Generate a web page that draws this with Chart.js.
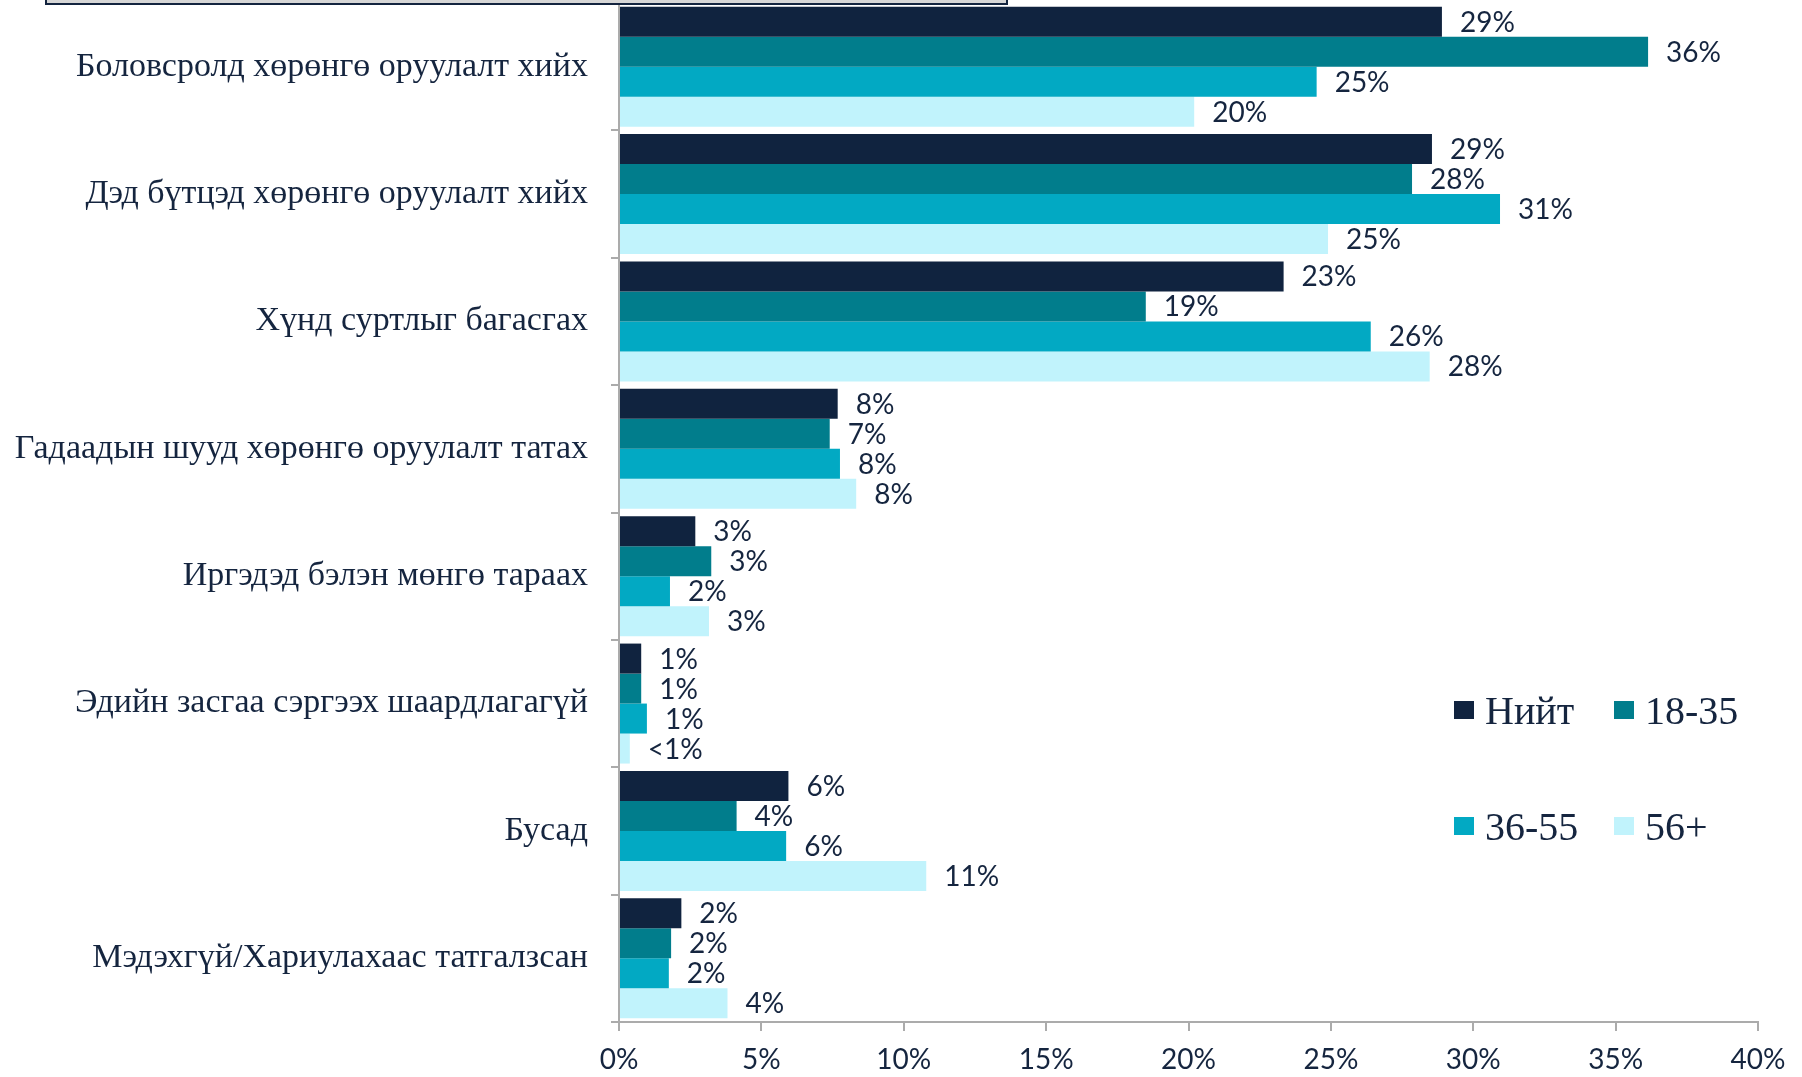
<!DOCTYPE html>
<html>
<head>
<meta charset="utf-8">
<script src="https://cdn.jsdelivr.net/npm/chart.js@4.4.0/dist/chart.umd.min.js"></script>
<style>
  html, body { margin: 0; padding: 0; background: #fff; overflow: hidden; }
  #wrap { position: relative; width: 1802px; height: 1077px; }
  #titleBox { position: absolute; left: 45px; top: -40px; width: 959px; height: 41px;
    border: 2px solid #13243f; background: #d6d6d6; }
  #legend { position: absolute; left: 1454px; top: 687px; display: grid;
    grid-template-columns: 160px 160px; row-gap: 70px;
    font-family: 'Liberation Serif', serif; font-size: 40px; color: #15253f; }
  #legend div { display: flex; align-items: center; height: 46px; }
  #legend span.box { width: 20px; height: 18px; margin-right: 11px; }
</style>
</head>
<body>
<div id="wrap">
  <canvas id="barChart" width="1802" height="1077"></canvas>
  <div id="titleBox"></div>
  <div id="legend"></div>
</div>
<script>
var categories = ['Боловсролд хөрөнгө оруулалт хийх', 'Дэд бүтцэд хөрөнгө оруулалт хийх', 'Хүнд суртлыг багасгах',
    'Гадаадын шууд хөрөнгө оруулалт татах', 'Иргэдэд бэлэн мөнгө тараах', 'Эдийн засгаа сэргээх шаардлагагүй',
    'Бусад', 'Мэдэхгүй/Хариулахаас татгалзсан'];
var seriesNames = ['Нийт', '18-35', '36-55', '56+'];
var colors = ['#10233f', '#017d8c', '#02a9c3', '#c1f3fc'];

var total = [28.9, 28.55, 23.34, 7.68, 2.68, 0.78, 5.95, 2.19];
var age18 = [36.14, 27.85, 18.5, 7.4, 3.24, 0.78, 4.13, 1.83];
var age36 = [24.5, 30.94, 26.4, 7.76, 1.79, 0.98, 5.87, 1.75];
var age56 = [20.2, 24.9, 28.47, 8.33, 3.16, 0.38, 10.79, 3.81];

var totalLabels = ['29%', '29%', '23%', '8%', '3%', '1%', '6%', '2%'];
var age18Labels = ['36%', '28%', '19%', '7%', '3%', '1%', '4%', '2%'];
var age36Labels = ['25%', '31%', '26%', '8%', '2%', '1%', '6%', '2%'];
var age56Labels = ['20%', '25%', '28%', '8%', '3%', '<1%', '11%', '4%'];

var xTicks = [0, 5, 10, 15, 20, 25, 30, 35, 40];

var allValues = [total, age18, age36, age56];
var allLabels = [totalLabels, age18Labels, age36Labels, age56Labels];

var datasets = seriesNames.map(function (name, i) {
    return {
        label: name,
        data: allValues[i],
        valueLabels: allLabels[i],
        backgroundColor: colors[i],
        borderWidth: 0,
        categoryPercentage: 0.942,
        barPercentage: 1
    };
});

// value labels at the end of each bar
var barLabels = {
    id: 'barLabels',
    afterDatasetsDraw: function (chart) {
        var ctx = chart.ctx;
        ctx.save();
        ctx.font = '28px Lato';
        ctx.fillStyle = '#15253f';
        ctx.textAlign = 'left';
        ctx.textBaseline = 'middle';
        chart.data.datasets.forEach(function (ds, i) {
            chart.getDatasetMeta(i).data.forEach(function (bar, j) {
                ctx.fillText(ds.valueLabels[j], bar.x + 18, bar.y + 1);
            });
        });
        ctx.restore();
    }
};

var ctx = document.getElementById('barChart').getContext('2d');
var myChart = new Chart(ctx, {
    type: 'bar',
    data: {
        labels: categories,
        datasets: datasets
    },
    options: {
        indexAxis: 'y',
        responsive: false,
        animation: false,
        layout: { padding: { top: 3, right: 44, left: 0, bottom: 0 } },
        plugins: {
            legend: { display: false },
            tooltip: { enabled: false }
        },
        scales: {
            x: {
                min: 0,
                max: 40,
                afterBuildTicks: function (scale) {
                    scale.ticks = xTicks.map(function (v) { return { value: v }; });
                },
                afterFit: function (scale) { scale.height = 55; },
                border: { color: '#ababab', width: 2 },
                grid: { drawOnChartArea: false, tickLength: 9, color: '#ababab', lineWidth: 2 },
                ticks: {
                    padding: 12,
                    color: '#15253f',
                    font: { family: 'Lato', size: 28 },
                    callback: function (v) { return v + '%'; }
                }
            },
            y: {
                afterFit: function (scale) {
                    scale.width = 619;
                    scale.paddingTop = 0;
                    scale.paddingBottom = 0;
                },
                border: { color: '#ababab', width: 2 },
                grid: { offset: true, drawOnChartArea: false, tickLength: 8, color: '#ababab', lineWidth: 2 },
                ticks: {
                    padding: 23,
                    color: '#15253f',
                    font: { family: 'Liberation Serif', size: 34 }
                }
            }
        }
    },
    plugins: [barLabels]
});

// legend laid out as in the original, two per row
var legend = document.getElementById('legend');
seriesNames.forEach(function (name, i) {
    var item = document.createElement('div');
    var box = document.createElement('span');
    box.className = 'box';
    box.style.background = colors[i];
    item.appendChild(box);
    item.appendChild(document.createTextNode(name));
    legend.appendChild(item);
});
</script>
</body>
</html>
